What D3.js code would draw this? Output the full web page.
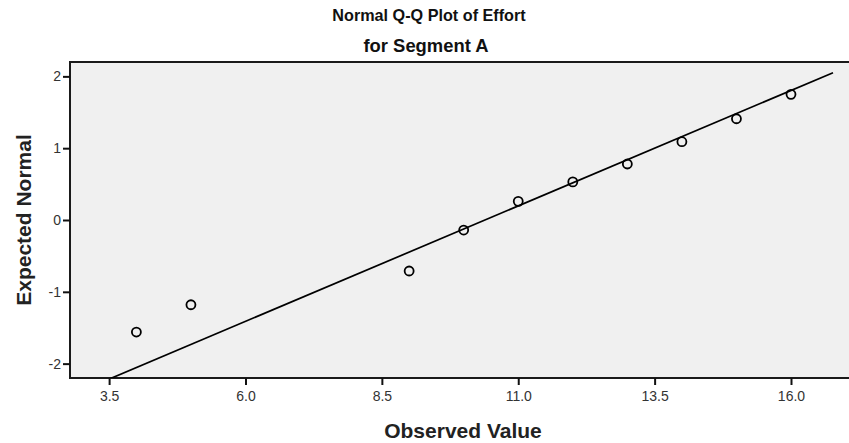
<!DOCTYPE html>
<html>
<head>
<meta charset="utf-8">
<script src="https://cdn.jsdelivr.net/npm/d3@7"></script>
<style>
  body { margin: 0; background: #fff; }
  text { font-family: Arial, "Liberation Sans", sans-serif; }
</style>
</head>
<body>
<svg id="chart" width="849" height="443"></svg>
<script>
var width = 849;
var height = 443;

// observed values and expected normal quantiles
var observed = [4, 5, 9, 10, 11, 12, 13, 14, 15, 16];
var expected = [-1.56, -1.18, -0.71, -0.14, 0.26, 0.53, 0.78, 1.09, 1.41, 1.75];
var xTicks = [3.5, 6.0, 8.5, 11.0, 13.5, 16.0];
var yTicks = [-2, -1, 0, 1, 2];
var lineMean = 10.39;
var lineSd = 3.11;
var lineX = [3.5, 16.77];

var margin = {left: 70, top: 62, right: -2, bottom: 65};

var svg = d3.select("#chart");

var x = d3.scaleLinear()
    .domain([2.783, 17.1])
    .range([margin.left, width - margin.right]);

var y = d3.scaleLinear()
    .domain([-2.2, 2.2])
    .range([height - margin.bottom, margin.top]);

var plotH = height - margin.bottom - margin.top;

svg.append("defs").append("clipPath")
    .attr("id", "clip")
    .append("rect")
    .attr("x", margin.left)
    .attr("y", margin.top)
    .attr("width", width - margin.left + 10)
    .attr("height", plotH);

svg.append("rect")
    .attr("x", margin.left)
    .attr("y", margin.top)
    .attr("width", width - margin.left + 10)
    .attr("height", plotH)
    .attr("fill", "#f0f0f0")
    .attr("stroke", "#1a1a1a")
    .attr("stroke-width", 2);

// x axis
var xAxis = svg.append("g")
    .attr("transform", "translate(0," + (height - margin.bottom) + ")")
    .call(d3.axisBottom(x).tickValues(xTicks).tickFormat(function(d) { return d.toFixed(1); }).tickSize(7).tickPadding(6));
xAxis.select(".domain").remove();
xAxis.selectAll("line").attr("stroke", "#111").attr("stroke-width", 2);
xAxis.selectAll("text").style("font-size", "14px").attr("fill", "#333");

// y axis
var yAxis = svg.append("g")
    .attr("transform", "translate(" + margin.left + ",0)")
    .call(d3.axisLeft(y).tickValues(yTicks).tickFormat(function(d) { return String(d); }).tickSize(7).tickPadding(2));
yAxis.select(".domain").remove();
yAxis.selectAll("line").attr("stroke", "#111").attr("stroke-width", 2);
yAxis.selectAll("text").style("font-size", "14px").attr("fill", "#333");

// reference line
svg.append("line")
    .attr("clip-path", "url(#clip)")
    .attr("x1", x(lineX[0]))
    .attr("y1", y((lineX[0] - lineMean) / lineSd))
    .attr("x2", x(lineX[1]))
    .attr("y2", y((lineX[1] - lineMean) / lineSd))
    .attr("stroke", "#000")
    .attr("stroke-width", 1.7);

// points
svg.append("g")
    .selectAll("circle")
    .data(observed)
    .enter()
    .append("circle")
    .attr("cx", function(d) { return x(d); })
    .attr("cy", function(d, i) { return y(expected[i]); })
    .attr("r", 4.5)
    .attr("fill", "none")
    .attr("stroke", "#000")
    .attr("stroke-width", 1.8);

// titles
svg.append("text")
    .attr("x", 429).attr("y", 21)
    .attr("text-anchor", "middle")
    .style("font-size", "16.2px").style("font-weight", "bold")
    .attr("fill", "#111")
    .text("Normal Q-Q Plot of Effort");

svg.append("text")
    .attr("x", 426).attr("y", 52)
    .attr("text-anchor", "middle")
    .style("font-size", "18.4px").style("font-weight", "bold")
    .attr("fill", "#111")
    .text("for Segment A");

svg.append("text")
    .attr("x", 463).attr("y", 438)
    .attr("text-anchor", "middle")
    .style("font-size", "21px").style("font-weight", "bold")
    .attr("fill", "#222")
    .text("Observed Value");

svg.append("text")
    .attr("transform", "translate(31," + (margin.top + plotH / 2) + ") rotate(-90)")
    .attr("text-anchor", "middle")
    .style("font-size", "21px").style("font-weight", "bold")
    .attr("fill", "#222")
    .text("Expected Normal");
</script>
</body>
</html>
